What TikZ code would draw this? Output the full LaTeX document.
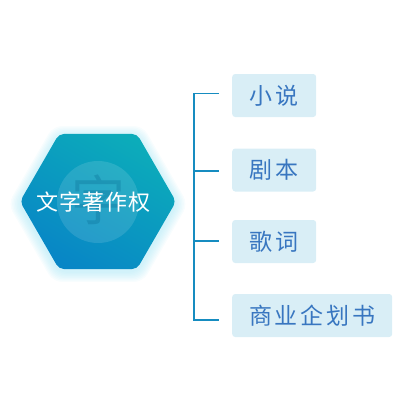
\documentclass[tikz,border=0pt]{standalone}
\usepackage{fontspec}
\usepackage{xcolor}
\usepackage{tikz}
\usetikzlibrary{positioning, shapes.geometric}
\newfontfamily\cjk{Noto Sans CJK SC}
\newfontfamily\cjkhex[LetterSpace=5]{Noto Sans CJK SC}
\newfontfamily\cjktag[LetterSpace=12]{Noto Sans CJK SC}
\definecolor{HexTeal}{RGB}{12,172,186}
\definecolor{HexBlue}{RGB}{8,134,198}
\definecolor{GlowCyan}{RGB}{160,228,244}
\definecolor{BracketBlue}{RGB}{22,140,192}
\definecolor{TagFill}{RGB}{217,238,246}
\definecolor{TagText}{RGB}{56,118,192}
\definecolor{WaterInk}{RGB}{6,105,145}
\tikzset{
  hexbox/.style={regular polygon, regular polygon sides=6, minimum size=156pt, inner sep=0pt,
    rounded corners=5pt, top color=HexTeal, bottom color=HexBlue, shading angle=-30},
  hexglow/.style={regular polygon, regular polygon sides=6, inner sep=0pt, rounded corners=9pt,
    fill=GlowCyan, fill opacity=0.08},
  hextext/.style={font=\cjkhex\fontsize{22}{24}\selectfont, text=white, inner sep=0pt},
  watermark/.style={font=\cjk\fontsize{54}{54}\selectfont, text=WaterInk, text opacity=0.3, inner sep=0pt},
  tagbox/.style={fill=TagFill, rounded corners=3pt, minimum height=43pt, inner sep=0pt, anchor=west,
    font=\cjktag\fontsize{23}{26}\selectfont, text=TagText},
  bracket/.style={BracketBlue, line width=1.8pt},
}

\begin{document}
\begin{tikzpicture}[x=1pt, y=-1pt]
    \useasboundingbox (0,0) rectangle (420,420);
    % the glowing hexagon
    \foreach \s in {180,177,...,159}
      \node[hexglow, minimum size=\s pt] (glow\s) at (98,204) {};
    \node[hexbox] (hub) at (98,201.5) {};
    \node[circle, fill=white, fill opacity=0.12, minimum size=82pt, inner sep=0pt] (disc) at (98,202) {};
    \node[watermark] (mark) at (98,200) {字};
    \node[hextext] (hubtext) at (93.5,202) {文字著作权};
    % the four works
    \node[tagbox, minimum width=84pt] (novel) at (232,95.5) {小说};
    \node[tagbox, minimum width=84pt] (script) at (232,170) {剧本};
    \node[tagbox, minimum width=84pt] (lyrics) at (232,241.5) {歌词};
    \node[tagbox, minimum width=160pt] (plan) at (232,315.5) {商业企划书};
    % the bracket
    \foreach \y [count=\i] in {93.5,171,241,320} {
      \coordinate (spine\i) at (194,\y);
      \coordinate (tip\i) at (219,\y);
    }
    \draw[bracket] (tip1) -- (spine1) -- (spine4) -- (tip4);
    \draw[bracket] (spine2) -- (tip2) (spine3) -- (tip3);
  \end{tikzpicture}
\end{document}
